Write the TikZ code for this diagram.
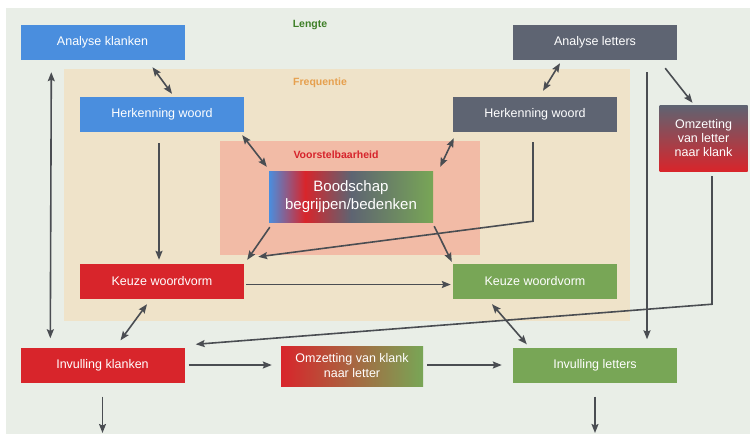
\documentclass[tikz,border=0pt]{standalone}
\usepackage{fontspec}
\setmainfont{Liberation Sans}
\usetikzlibrary{arrows.meta}

\definecolor{bgcol}{HTML}{E9EEE7}
\definecolor{freqcol}{HTML}{EFE3C9}
\definecolor{voorcol}{HTML}{F2BBA6}
\definecolor{kblue}{HTML}{4A8EDE}
\definecolor{kgray}{HTML}{5E6472}
\definecolor{kred}{HTML}{D8252B}
\definecolor{kgreen}{HTML}{78A656}
\definecolor{arrcol}{HTML}{4A4D52}
\definecolor{lengtetxt}{HTML}{3E7F27}
\definecolor{freqtxt}{HTML}{E6A04E}
\definecolor{voortxt}{HTML}{D6232B}

\pgfdeclarehorizontalshading{boodschapshade}{100bp}{color(0bp)=(kblue); color(25bp)=(kblue); color(36bp)=(kred); color(50bp)=(kgray); color(75bp)=(kgreen); color(100bp)=(kgreen)}

\def\boxw{164pt}
\def\boxh{35pt}

\begin{document}
\begin{tikzpicture}[x=1pt, y=-1pt,
  >={Stealth[length=9pt,width=7pt,inset=1.5pt]},
  box/.style={text=white, minimum width=\boxw, minimum height=\boxh, inner sep=0pt,
    align=center, font=\fontsize{12.5}{15}\selectfont},
  lbl/.style={font=\bfseries\fontsize{10.5}{12}\selectfont},
  arr/.style={->, draw=arrcol, line width=1.6pt},
  dbl/.style={<->, draw=arrcol, line width=1.6pt}]
 \useasboundingbox (0,0) rectangle (750,434);
 % Backgrounds
 \fill[white] (0,0) rectangle (750,434);
 \fill[bgcol] (6,8) rectangle (750,434);
 \fill[freqcol] (64,69) rectangle (630,321);
 \fill[voorcol] (220,141) rectangle (480,255);
 % Labels
 \node[lbl, text=lengtetxt] (lengte) at (310,25) {Lengte};
 \node[lbl, text=freqtxt] (frequentie) at (320,83) {Frequentie};
 \node[lbl, text=voortxt] (voorstel) at (336,155) {Voorstelbaarheid};
 % Boxes
 \node[box, fill=kblue] (ak) at (102.5,42.5) {Analyse klanken};
 \node[box, fill=kgray] (al) at (595,42.5) {Analyse letters};
 \node[box, fill=kblue] (hwl) at (162,114.5) {Herkenning woord};
 \node[box, fill=kgray] (hwr) at (535,114.5) {Herkenning woord};
 \node[box, minimum width=88pt, minimum height=66pt, top color=kgray, bottom color=kred,
   font=\fontsize{12.5}{14}\selectfont] (olk) at (703.5,138) {Omzetting\\van letter\\naar klank};
 \node[box, minimum height=51pt, shade, shading=boodschapshade, shading angle=0,
   font=\fontsize{15}{18}\selectfont] (bb) at (351,196.5) {Boodschap\\begrijpen/bedenken};
 \node[box, fill=kred] (kwl) at (162,281.5) {Keuze woordvorm};
 \node[box, fill=kgreen] (kwr) at (535,281.5) {Keuze woordvorm};
 \node[box, fill=kred] (ik) at (102.5,365) {Invulling klanken};
 \node[box, minimum width=142pt, minimum height=40pt, left color=kred, right color=kgreen]
   (okl) at (352,366) {Omzetting van klank\\naar letter};
 \node[box, fill=kgreen] (il) at (595,365) {Invulling letters};
 % Free ends
 \coordinate (ikout) at (102.5,433);
 \coordinate (ilout) at (595,433);
 % Arrows
 \draw[dbl] ([xshift=31pt,yshift=-12pt]ak.south west) -- ([xshift=30pt,yshift=9pt]ik.north west);
 \draw[dbl] ([xshift=50pt,yshift=-7pt]ak.south) -- ([xshift=10pt,yshift=3pt]hwl.north);
 \draw[dbl] ([xshift=-2pt,yshift=-3pt]hwl.south east) -- ([xshift=-2pt,yshift=4pt]bb.north west);
 \draw[dbl] ([xshift=-35pt,yshift=-3pt]al.south) -- ([xshift=8pt,yshift=6pt]hwr.north);
 \draw[dbl] ([xshift=1pt,yshift=-6pt]hwr.south west) -- ([xshift=7pt,yshift=4pt]bb.north east);
 \draw[arr] ([xshift=-12pt,yshift=-8pt]al.south east) -- ([xshift=-11pt,yshift=2pt]olk.north);
 \draw[arr] ([xshift=52pt,yshift=-12pt]al.south) -- ([xshift=52pt,yshift=8pt]il.north);
 \draw[arr] ([xshift=8.5pt,yshift=-5pt]olk.south) -- ++(0,128) -- ([xshift=11pt,yshift=3pt]ik.north east);
 \draw[arr] ([xshift=-2pt,yshift=-10pt]hwr.south) -- ++(0,79) -- ([xshift=14pt,yshift=7pt]kwl.north east);
 \draw[arr] ([xshift=1pt,yshift=-5pt]bb.south west) -- ([xshift=3pt,yshift=4pt]kwl.north east);
 \draw[arr] ([xshift=1pt,yshift=-4pt]bb.south east) -- ([xshift=-1pt,yshift=2pt]kwr.north west);
 \draw[arr] ([xshift=-3pt,yshift=-11pt]hwl.south) -- ([xshift=-3pt,yshift=4pt]kwl.north);
 \draw[arr] ([xshift=2pt,yshift=-3pt]kwl.east) -- ([xshift=-2pt,yshift=-3pt]kwr.west);
 \draw[dbl] ([xshift=-15pt,yshift=-5pt]kwl.south) -- ([xshift=18pt,yshift=7pt]ik.north);
 \draw[dbl] ([xshift=-43pt,yshift=-5pt]kwr.south) -- ([xshift=14pt,yshift=3pt]il.north west);
 \draw[arr] ([xshift=4pt]ik.east) -- ([xshift=-9pt,yshift=1pt]okl.west);
 \draw[arr] ([xshift=4pt,yshift=1pt]okl.east) -- ([xshift=-11pt]il.west);
 \foreach \n/\m in {ik/ikout, il/ilout}
  \draw[arr] ([yshift=-14pt]\n.south) -- (\m);
\end{tikzpicture}
\end{document}
